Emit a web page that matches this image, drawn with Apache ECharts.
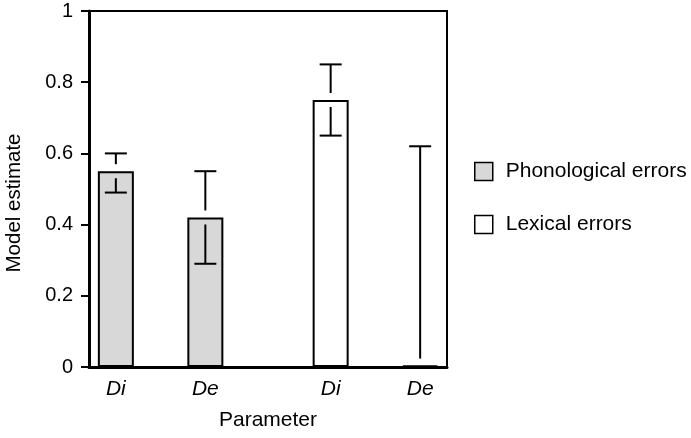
<!DOCTYPE html>
<html>
<head>
<meta charset="utf-8">
<script src="https://cdn.jsdelivr.net/npm/echarts@6/dist/echarts.min.js"></script>
<style>html,body{margin:0;padding:0;background:#fff}#c{width:691px;height:438px}</style>
</head>
<body>
<div id="c"></div>
<script>
// ---- data ----
const parameters = ['Di', 'De'];
const seriesNames = ['Phonological errors', 'Lexical errors'];
const phonologicalValues = [0.55, 0.42];
const phonologicalLow = [0.49, 0.29];
const phonologicalHigh = [0.60, 0.55];
const lexicalValues = [0.75, 0.004];
const lexicalLow = [0.65, 0.0];
const lexicalHigh = [0.85, 0.62];
const yTicks = [0, 0.2, 0.4, 0.6, 0.8, 1];

// ---- layout of slots on the category axis ----
const FONT = "'Liberation Sans', Arial, Helvetica, sans-serif";
const slotLead = 1, slotStep = 5, slotGroupStep = 7, slotTotal = 20;
const groups = [
  {name: seriesNames[0], values: phonologicalValues, low: phonologicalLow, high: phonologicalHigh, color: '#d8d8d8'},
  {name: seriesNames[1], values: lexicalValues, low: lexicalLow, high: lexicalHigh, color: '#ffffff'}
];
const categories = new Array(slotTotal).fill('');
const barSeries = [];
const errData = [];
let slot = slotLead;
groups.forEach((g, gi) => {
  const d = new Array(slotTotal).fill('-');
  parameters.forEach((p, pi) => {
    if (pi > 0) slot += slotStep;
    categories[slot] = p;
    d[slot] = g.values[pi];
    errData.push([slot, g.values[pi], g.low[pi], g.high[pi]]);
  });
  slot += slotGroupStep;
  barSeries.push({
    name: g.name, type: 'bar', data: d, barWidth: 36, barGap: '-100%',
    itemStyle: {color: g.color, borderColor: '#000', borderWidth: 2},
    silent: true, z: 2
  });
});

const chart = echarts.init(document.getElementById('c'), null, {renderer: 'canvas'});
chart.setOption({
  animation: false,
  textStyle: {fontFamily: FONT, color: '#000'},
  grid: {left: 89, right: 244, top: 11, bottom: 71, show: true, borderColor: '#000', borderWidth: 2,
         containLabel: false, outerBoundsMode: 'none'},
  legend: {
    orient: 'vertical', left: 469, top: 156, itemWidth: 18, itemHeight: 18, itemGap: 32,
    icon: 'rect', selectedMode: false,
    data: seriesNames.map((n, i) => ({name: n, itemStyle: {color: groups[i].color, borderColor: '#000', borderWidth: 1.5}})),
    textStyle: {fontFamily: FONT, fontSize: 21, color: '#000', padding: [0, 0, 0, 8]}
  },
  xAxis: {
    type: 'category', data: categories, boundaryGap: true,
    name: 'Parameter', nameLocation: 'middle', nameGap: 43,
    nameTextStyle: {fontFamily: FONT, fontSize: 21, color: '#000'},
    axisLine: {lineStyle: {color: '#000', width: 3}},
    axisTick: {show: false},
    axisLabel: {interval: 0, fontFamily: FONT, fontSize: 21, fontStyle: 'italic', color: '#000', margin: 12},
    splitLine: {show: false}
  },
  yAxis: {
    type: 'value', min: yTicks[0], max: yTicks[yTicks.length - 1], interval: yTicks[1] - yTicks[0],
    name: 'Model estimate', nameLocation: 'middle', nameGap: 64,
    nameTextStyle: {fontFamily: FONT, fontSize: 20.5, color: '#000', padding: [0, 28, 0, 0]},
    axisLine: {show: true, lineStyle: {color: '#000', width: 3}},
    axisTick: {show: true, length: 8, lineStyle: {color: '#000', width: 2}},
    axisLabel: {fontFamily: FONT, fontSize: 20, color: '#000', margin: 16},
    splitLine: {show: false}
  },
  series: barSeries.concat([{
    type: 'custom', name: 'err', data: errData, z: 5, silent: true,
    renderItem: function (params, api) {
      const c = api.value(0);
      const m = api.coord([c, api.value(1)]);
      const lo = api.coord([c, api.value(2)]);
      const hi = api.coord([c, api.value(3)]);
      const half = 11, gap = 7;
      const st = {stroke: '#000', lineWidth: 2};
      const ch = [];
      if (hi[1] < m[1] - gap) {
        ch.push({type: 'line', shape: {x1: m[0], y1: hi[1], x2: m[0], y2: m[1] - gap}, style: st});
        ch.push({type: 'line', shape: {x1: m[0] - half, y1: hi[1], x2: m[0] + half, y2: hi[1]}, style: st});
      }
      if (lo[1] > m[1] + gap) {
        ch.push({type: 'line', shape: {x1: m[0], y1: m[1] + gap, x2: m[0], y2: lo[1]}, style: st});
        ch.push({type: 'line', shape: {x1: m[0] - half, y1: lo[1], x2: m[0] + half, y2: lo[1]}, style: st});
      }
      return {type: 'group', children: ch};
    }
  }])
});
</script>
</body>
</html>
